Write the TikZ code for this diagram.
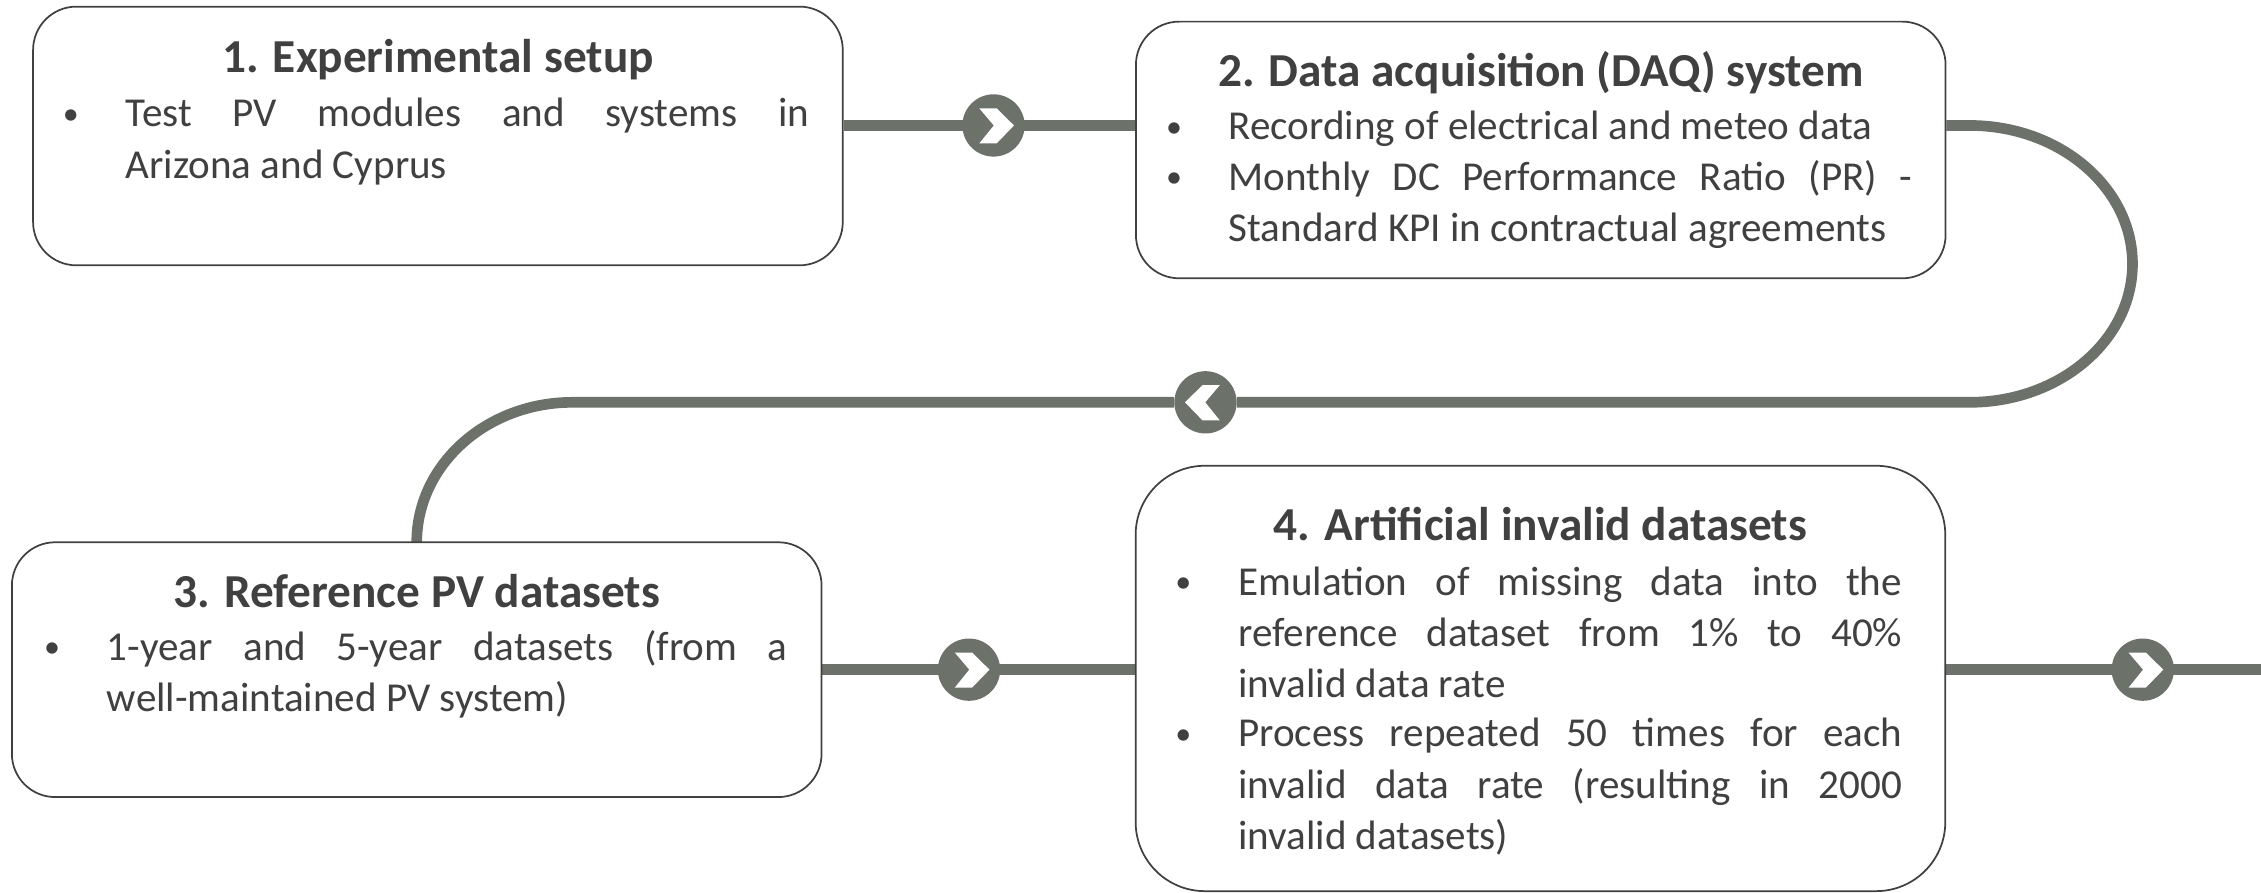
\documentclass[tikz,border=0pt]{standalone}
\usepackage{fontspec}
\setmainfont{Carlito}
\usetikzlibrary{backgrounds}
\definecolor{ink}{HTML}{404040}
\definecolor{flow}{HTML}{6C716A}
\hbadness=10000
\hyphenpenalty=10000
\exhyphenpenalty=10000
% small bullet hanging 38pt to the left of the paragraph start
\newcommand\bitem{\leavevmode\llap{\makebox[0pt][c]{\raisebox{1.8pt}{\scalebox{0.78}{\textbullet}}}\hspace{38pt}}}
\tikzset{
  stage/.style={draw=ink, line width=1.2pt, rounded corners=30pt, fill=white,
    minimum width=561.5pt, inner sep=0pt},
  flowline/.style={draw=flow, line width=7.4pt},
  hub/.style={circle, fill=flow, minimum size=43.2pt, inner sep=0pt},
  title/.style={anchor=base, inner sep=0pt, text=ink,
    font=\fontsize{32.8}{39}\selectfont\bfseries},
  body/.style={anchor=base west, inner sep=0pt, text=ink, align=justify,
    font=\fontsize{28.5}{35.5}\selectfont},
  chevr/.pic={\fill[white] (-9.9,11.9) -- (2.1,11.9) -- (14.2,0) -- (2.1,-12.5)
    -- (-9.9,-12.5) -- (0.2,0) -- cycle;},
  chevl/.pic={\fill[white,xscale=-1] (-9.9,11.9) -- (2.1,11.9) -- (14.2,0) -- (2.1,-12.5)
    -- (-9.9,-12.5) -- (0.2,0) -- cycle;}
}
\begin{document}
\begin{tikzpicture}[x=1pt,y=1pt]
\useasboundingbox (0,0) rectangle (1568,-619);

% stages
\node[stage, minimum height=179.4pt] (b1) at (303.7,-94.3) {};
\node[stage, minimum height=178pt] (b2) at (1068.5,-104) {};
\node[stage, minimum height=176.7pt] (b3) at (289,-464.4) {};
\node[stage, minimum height=295pt, rounded corners=48pt] (b4) at (1068.3,-470.5) {};

% hubs on the flow line
\node[hub] (c1) at (689,-87) {};
\node[hub] (c2) at (836,-279) {};
\node[hub] (c3) at (672,-464.4) {};
\node[hub] (c4) at (1486,-464.4) {};
\coordinate (out) at (1568,-464.4);

\begin{scope}[on background layer]
\draw[flowline] (b1.east |- c1) -- (b2.west |- c1);
\draw[flowline] (b2.east |- c1) -- ++(16,0)
  arc[start angle=90, end angle=-90, x radius=113, y radius=96]
  -- (c2) -- (397,-279)
  arc[start angle=90, end angle=180, x radius=108, y radius=97] -- (b3.north);
\draw[flowline] (b3.east |- c3) -- (b4.west |- c3);
\draw[flowline] (b4.east |- c4) -- (out);
\end{scope}

\pic at (c1) {chevr};
\pic at (c2) {chevl};
\pic at (c3) {chevr};
\pic at (c4) {chevr};

% texts
\node[title] (t1) at (b1.center |- 0,-50) {1. Experimental setup};
\node[body, text width=474pt] (p1) at (87,-88)
  {\bitem Test PV modules and systems in\linebreak Arizona and Cyprus};

\node[title] (t2) at (b2.center |- 0,-60) {2. Data acquisition (DAQ) system};
\node[body, text width=474pt] (p2a) at (852,-97)
  {\bitem Recording of electrical and meteo data};
\node[body, text width=474pt] (p2b) at (852,-132)
  {\bitem Monthly DC Performance Ratio (PR) -\linebreak Standard KPI in contractual agreements};

\node[title] (t3) at (b3.center |- 0,-421) {3. Reference PV datasets};
\node[body, text width=472pt] (p3) at (74,-458)
  {\bitem 1-year and 5-year datasets (from a\linebreak well-maintained PV system)};

\node[title] (t4) at (b4.center |- 0,-375) {4. Artificial invalid datasets};
\node[body, text width=460.5pt] (p4a) at (858.5,-413)
  {\bitem Emulation of missing data into the\linebreak reference dataset from 1\% to 40\%\linebreak invalid data rate};
\node[body, text width=460.5pt] (p4b) at (858.5,-518)
  {\bitem Process repeated 50 times for each\linebreak invalid data rate (resulting in 2000\linebreak invalid datasets)};
\end{tikzpicture}
\end{document}
